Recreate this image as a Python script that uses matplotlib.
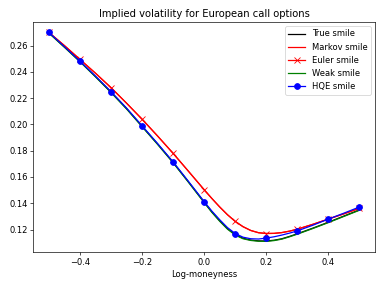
import numpy as np
import matplotlib
matplotlib.use("Agg")
import matplotlib.pyplot as plt

x = [-0.5, -0.45, -0.4, -0.35, -0.3, -0.25, -0.2, -0.15, -0.1, -0.05, 0.0,
     0.025, 0.05, 0.075, 0.1, 0.125, 0.15, 0.175, 0.2, 0.225, 0.25, 0.275, 0.3,
     0.35, 0.4, 0.45, 0.5]

true_smile = [0.2698, 0.2590, 0.2480, 0.2365, 0.2246, 0.2121, 0.1986, 0.1851, 0.1711,
              0.1561, 0.1408, 0.1334, 0.1267, 0.1207, 0.1162, 0.1134, 0.1120, 0.1114,
              0.1113, 0.1119, 0.1130, 0.1148, 0.1168, 0.1211, 0.1256, 0.1303, 0.1350]
markov_smile = [0.2700, 0.2600, 0.2495, 0.2390, 0.2280, 0.2162, 0.2040, 0.1912, 0.1780,
                0.1642, 0.1503, 0.1436, 0.1372, 0.1313, 0.1262, 0.1222, 0.1193, 0.1176,
                0.1170, 0.1171, 0.1177, 0.1188, 0.1203, 0.1240, 0.1280, 0.1320, 0.1362]
euler_smile = markov_smile
weak_smile = [0.2695, 0.2587, 0.2477, 0.2362, 0.2243, 0.2118, 0.1983, 0.1848, 0.1708,
              0.1558, 0.1405, 0.1330, 0.1263, 0.1203, 0.1158, 0.1130, 0.1117, 0.1111,
              0.1110, 0.1116, 0.1127, 0.1145, 0.1165, 0.1208, 0.1253, 0.1300, 0.1347]
hqe_smile = [0.2700, 0.2592, 0.2482, 0.2368, 0.2250, 0.2125, 0.1990, 0.1855, 0.1715,
             0.1565, 0.1413, 0.1340, 0.1275, 0.1215, 0.1170, 0.1142, 0.1130, 0.1128,
             0.1135, 0.1145, 0.1158, 0.1173, 0.1190, 0.1233, 0.1280, 0.1325, 0.1372]

xa = np.array(x)
mark_idx = [i for i, v in enumerate(xa) if np.isclose(v * 10, round(v * 10))]

fig, ax = plt.subplots(figsize=(6.4, 4.8), dpi=60)
ax.plot(x, true_smile, color="black", label="True smile")
ax.plot(x, markov_smile, color="red", label="Markov smile")
ax.plot(x, euler_smile, color="red", marker="x", markersize=7, markevery=mark_idx,
        label="Euler smile")
ax.plot(x, weak_smile, color="green", label="Weak smile")
ax.plot(x, hqe_smile, color="blue", marker="o", markersize=7, markevery=mark_idx,
        label="HQE smile")
ax.set_title("Implied volatility for European call options")
ax.set_xlabel("Log-moneyness")
ax.legend(loc="upper right")
fig.tight_layout()
fig.savefig("out.png", dpi=60)
